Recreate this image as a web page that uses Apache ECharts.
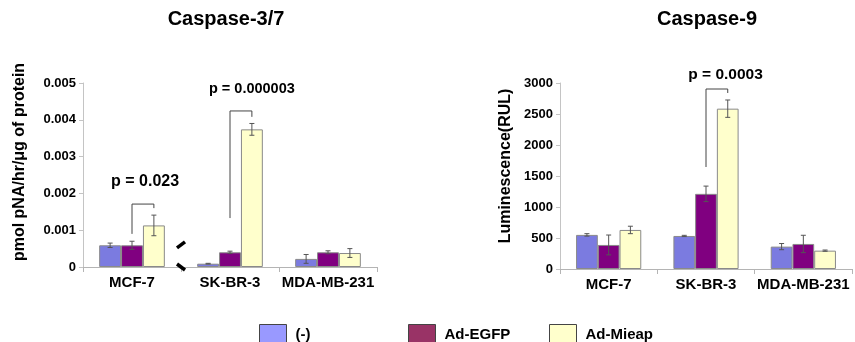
<!DOCTYPE html>
<html>
<head>
<meta charset="utf-8">
<script src="https://cdn.jsdelivr.net/npm/echarts@6/dist/echarts.min.js"></script>
<style>
html,body{margin:0;padding:0;background:#fff;}
#chart{width:855px;height:342px;}
</style>
</head>
<body>
<div id="chart"></div>
<script>
// ---------- data ----------
const categories = ['MCF-7', 'SK-BR-3', 'MDA-MB-231'];
const groupNames = ['(-)', 'Ad-EGFP', 'Ad-Mieap'];

// Caspase-3/7 (pmol pNA/hr/μg of protein)
const casp37_neg   = [0.00059, 0.00009, 0.00022];
const casp37_egfp  = [0.00059, 0.00040, 0.00040];
const casp37_mieap = [0.00113, 0.00374, 0.00038];
const casp37_neg_err   = [0.00006, 0.00001, 0.00012];
const casp37_egfp_err  = [0.00011, 0.00003, 0.00004];
const casp37_mieap_err = [0.00028, 0.00016, 0.00012];

// Caspase-9 (Luminescence RUL)
const casp9_neg   = [550, 533, 361];
const casp9_egfp  = [388, 1212, 404];
const casp9_mieap = [630, 2586, 296];
const casp9_neg_err   = [20, 10, 50];
const casp9_egfp_err  = [160, 125, 140];
const casp9_mieap_err = [60, 140, 10];

const casp37_ticks = [0, 0.001, 0.002, 0.003, 0.004, 0.005];
const casp9_ticks  = [0, 500, 1000, 1500, 2000, 2500, 3000];

// significance annotations: [category index, bracket top, left leg bottom, right leg bottom, text value]
const casp37_sig = [[0, 0.00171, 0.00090, 0.00160, 0.00231], [1, 0.00424, 0.00133, 0.00408, 0.00484]];
const casp37_sigText = ['p = 0.023', 'p = 0.000003'];
const casp9_sig = [[1, 2903, 1645, 2839, 3129]];
const casp9_sigText = ['p = 0.0003'];

// ---------- styles ----------
const FONT = '"Liberation Sans", Arial, sans-serif';
const barColors = ['#7b7be0', '#800080', '#ffffcc'];
const legendColors = ['#9999ff', '#993366', '#ffffcc'];
const GAP = 0.33;

const chart = echarts.init(document.getElementById('chart'), null, {renderer: 'canvas'});

function makeAxes(gi, ticks) {
  return {
    x: {
      type: 'category', gridIndex: gi, data: categories,
      axisLine: {lineStyle: {color: '#b4b4b4', width: 1}},
      axisTick: {show: true, length: 5, lineStyle: {color: '#b4b4b4'}},
      axisLabel: {interval: 0, color: '#000', fontFamily: FONT, fontWeight: 'bold', fontSize: 15, margin: 8},
      splitLine: {show: false}
    },
    y: {
      type: 'value', gridIndex: gi, min: ticks[0], max: ticks[ticks.length - 1],
      interval: ticks[1] - ticks[0],
      axisLine: {show: true, lineStyle: {color: '#c4c4c4', width: 1}},
      axisTick: {show: true, length: 4, lineStyle: {color: '#c4c4c4'}},
      axisLabel: {color: '#000', fontFamily: FONT, fontWeight: 'bold', fontSize: 13, margin: 7,
        formatter: v => String(+v.toFixed(6))},
      splitLine: {show: false}
    }
  };
}

function barSeries(name, values, idx, gi) {
  return {
    type: 'bar', name: name, xAxisIndex: gi, yAxisIndex: gi, data: values,
    barGap: '0%', barCategoryGap: (GAP * 100) + '%',
    itemStyle: {color: barColors[idx], borderColor: '#8a8a8a', borderWidth: 1},
    emphasis: {disabled: true}, z: 2
  };
}

function errSeries(values, errs, idx, gi) {
  return {
    type: 'custom', xAxisIndex: gi, yAxisIndex: gi, silent: true, z: 5,
    data: values.map((v, i) => [i, v, errs[i]]),
    renderItem: function (params, api) {
      const c = api.value(0), v = api.value(1), e = api.value(2);
      const band = api.size([1, 0])[0];
      const bw = band * (1 - GAP) / 3;
      const p = api.coord([c, v]);
      const x = p[0] + (idx - 1) * bw;
      const yTop = api.coord([c, v + e])[1];
      const yBot = api.coord([c, v - e])[1];
      const cap = 2.5;
      const st = {stroke: '#555', lineWidth: 1, fill: null};
      return {type: 'group', children: [
        {type: 'line', shape: {x1: x, y1: yTop, x2: x, y2: yBot}, style: st},
        {type: 'line', shape: {x1: x - cap, y1: yTop, x2: x + cap, y2: yTop}, style: st},
        {type: 'line', shape: {x1: x - cap, y1: yBot, x2: x + cap, y2: yBot}, style: st}
      ]};
    }
  };
}

function sigSeries(sig, texts, gi, textShift, fontSizes) {
  return {
    type: 'custom', xAxisIndex: gi, yAxisIndex: gi, silent: true, z: 6, clip: false,
    data: sig.map((s, i) => s.concat([i])),
    renderItem: function (params, api) {
      const c = api.value(0), top = api.value(1), lb = api.value(2), rb = api.value(3), tv = api.value(4);
      const i = api.value(5);
      const band = api.size([1, 0])[0];
      const bw = band * (1 - GAP) / 3;
      const cx = api.coord([c, 0])[0];
      const xl = cx, xr = cx + bw;
      const yt = api.coord([c, top])[1];
      const yl = api.coord([c, lb])[1];
      const yr = api.coord([c, rb])[1];
      const yText = api.coord([c, tv])[1];
      return {type: 'group', children: [
        {type: 'polyline', shape: {points: [[xl, yl], [xl, yt], [xr, yt], [xr, yr]]},
          style: {stroke: '#444', lineWidth: 1, fill: null}},
        {type: 'text', x: cx + textShift[i] * bw, y: yText,
          style: {text: texts[i], fill: '#000', font: 'bold ' + fontSizes[i] + 'px ' + FONT,
            textAlign: 'center', textVerticalAlign: 'middle'}}
      ]};
    }
  };
}

const a0 = makeAxes(0, casp37_ticks);
const a1 = makeAxes(1, casp9_ticks);

const legendBase = {
  orient: 'horizontal', itemWidth: 27, itemHeight: 20, itemGap: 10,
  textStyle: {color: '#000', fontFamily: FONT, fontWeight: 'bold', fontSize: 15, padding: [0, 0, 0, 4]},
  icon: 'rect', selectedMode: false, top: 319
};
const legendLefts = [254, 403, 544];

const option = {
  animation: false,
  backgroundColor: '#fff',
  grid: [
    {left: 83, top: 83, width: 294, height: 184, containLabel: false},
    {left: 560, top: 83, width: 292, height: 186, containLabel: false}
  ],
  xAxis: [a0.x, a1.x],
  yAxis: [a0.y, a1.y],
  legend: groupNames.map((n, i) => Object.assign({}, legendBase, {
    left: legendLefts[i],
    data: [{name: n, itemStyle: {color: legendColors[i], borderColor: '#444', borderWidth: 1}}]
  })),
  series: [
    barSeries(groupNames[0], casp37_neg, 0, 0),
    barSeries(groupNames[1], casp37_egfp, 1, 0),
    barSeries(groupNames[2], casp37_mieap, 2, 0),
    barSeries(groupNames[0], casp9_neg, 0, 1),
    barSeries(groupNames[1], casp9_egfp, 1, 1),
    barSeries(groupNames[2], casp9_mieap, 2, 1),
    errSeries(casp37_neg, casp37_neg_err, 0, 0),
    errSeries(casp37_egfp, casp37_egfp_err, 1, 0),
    errSeries(casp37_mieap, casp37_mieap_err, 2, 0),
    errSeries(casp9_neg, casp9_neg_err, 0, 1),
    errSeries(casp9_egfp, casp9_egfp_err, 1, 1),
    errSeries(casp9_mieap, casp9_mieap_err, 2, 1),
    sigSeries(casp37_sig, casp37_sigText, 0, [0.6, 1.0], [16, 14.5]),
    sigSeries(casp9_sig, casp9_sigText, 1, [0.9], [15.5])
  ],
  graphic: [
    {id: 't1', type: 'text', x: 226, y: 19, style: {text: 'Caspase-3/7', fill: '#000', font: 'bold 20px ' + FONT, textAlign: 'center', textVerticalAlign: 'middle'}},
    {id: 't2', type: 'text', x: 707, y: 19, style: {text: 'Caspase-9', fill: '#000', font: 'bold 20px ' + FONT, textAlign: 'center', textVerticalAlign: 'middle'}},
    {id: 'n1', type: 'text', x: 20, y: 162, rotation: Math.PI / 2, style: {text: 'pmol pNA/hr/μg of protein', fill: '#000', font: 'bold 16px ' + FONT, textAlign: 'center', textVerticalAlign: 'middle'}},
    {id: 'n2', type: 'text', x: 506, y: 166, rotation: Math.PI / 2, style: {text: 'Luminescence(RUL)', fill: '#000', font: 'bold 16px ' + FONT, textAlign: 'center', textVerticalAlign: 'middle'}}
  ]
};
chart.setOption(option);

// axis-break marks between MCF-7 and SK-BR-3 on the Caspase-3/7 chart
const bx = (chart.convertToPixel({xAxisIndex: 0}, 0) + chart.convertToPixel({xAxisIndex: 0}, 1)) / 2;
const y0 = chart.convertToPixel({yAxisIndex: 0}, 0);
const yUp = chart.convertToPixel({yAxisIndex: 0}, 0.0006);
chart.setOption({graphic: [
  {id: 'brk1', type: 'line', shape: {x1: bx + 4, y1: yUp - 3, x2: bx - 4, y2: yUp + 3}, style: {stroke: '#000', lineWidth: 3.5}, z: 10},
  {id: 'brk2', type: 'line', shape: {x1: bx - 4, y1: y0 - 3, x2: bx + 4, y2: y0 + 3}, style: {stroke: '#000', lineWidth: 3.5}, z: 10}
]});
</script>
</body>
</html>
